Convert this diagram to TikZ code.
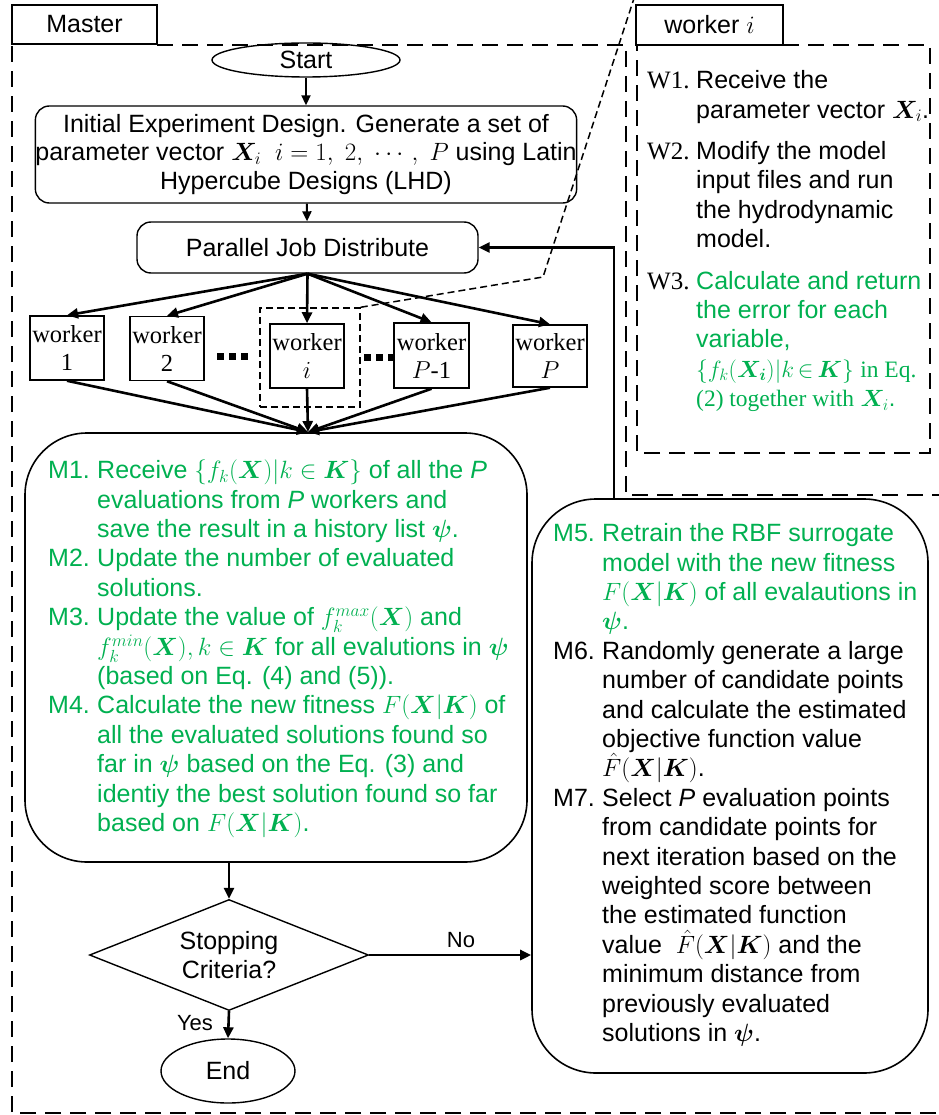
\RequirePackage{fix-cm}
\documentclass[tikz,border=0pt]{standalone}
\usepackage{amsmath}
\usepackage{bm}
\usepackage{fontspec}
\setmainfont{Liberation Sans}
\newfontfamily\serifont{Liberation Serif}
\usetikzlibrary{arrows.meta,shapes.geometric}
\definecolor{mgreen}{RGB}{0,176,80}
\newcommand{\ftxt}{\fontsize{25}{29.4}\selectfont}
\newcommand{\gr}[1]{\textcolor{mgreen}{#1}}
\newcommand{\Fhat}{\smash[t]{\hat{F}}}
\tikzset{
  arr/.style={line width=2.6pt, -{Triangle[length=11pt,width=10pt]}},
  thinarr/.style={line width=2pt, -{Triangle[length=10pt,width=9pt]}},
  roundbox/.style={draw, line width=1.4pt, rounded corners=14pt, inner sep=0pt},
  bigbox/.style={draw, line width=1.6pt, rounded corners=62pt, inner sep=0pt},
  wbox/.style={draw, line width=1.5pt, inner sep=0pt, minimum width=74pt, minimum height=64pt, align=center, font=\serifont\fontsize{24.5}{28}\selectfont},
  labelbox/.style={draw, line width=2.6pt, inner sep=0pt, font=\ftxt},
  frame/.style={line width=2pt, dash pattern=on 16pt off 9pt},
  smalldash/.style={line width=1.5pt, dash pattern=on 7pt off 4pt},
  term/.style={draw, ellipse, line width=1.4pt, inner sep=0pt, font=\ftxt},
}
\begin{document}
\begin{tikzpicture}[x=1pt, y=-1pt]
\useasboundingbox (0,0) rectangle (938,1115);

% frames
\draw[frame] (157,45) -- (626,45) -- (626,495) -- (950,495) -- (950,1113) -- (12,1113) -- (12,44);
\node[labelbox, minimum width=145pt, minimum height=39pt] (master) at (84.5,24.5) {Master};
\draw[frame] (783,45) -- (930,45) -- (930,453) -- (637,453) -- (637,45);
\node[labelbox, minimum width=147pt, minimum height=40pt] (wilabel) at (709.5,25) {worker $i$};

% start / initial / distribute
\node[term, minimum width=188pt, minimum height=34pt] (start) at (306,60) {Start};
\node[roundbox, minimum width=534pt, minimum height=97pt, align=center, font=\fontsize{25}{28.5}\selectfont] (init) at (306,154.5)
  {Initial Experiment Design. Generate a set of\\
   parameter vector $\bm{X}_i$ \ $i=1,\ 2,\ \cdots,\ P$ using Latin\\
   Hypercube Designs (LHD)};
\node[roundbox, minimum width=341pt, minimum height=51pt, font=\ftxt] (pjd) at (307.5,247.5) {Parallel Job Distribute};
\draw[thinarr] (start) -- (init);
\draw[thinarr] (init) -- (pjd);

% workers
\node[wbox] (w1) at (67,348) {worker\\1};
\node[wbox] (w2) at (167,348.5) {worker\\2};
\node[wbox, minimum height=64pt] (wi) at (307,356) {worker\\$i$};
\node[wbox, minimum width=75pt, minimum height=65pt] (wp1) at (431.5,355.5) {worker\\$P$-1};
\node[wbox, minimum height=62pt] (wp) at (550,356) {worker\\$P$};
\node[draw, smalldash, minimum width=100pt, minimum height=99pt, inner sep=0pt] (wibox) at (310,357.5) {};
\node[inner sep=0pt] (dots1) at (232,356) {\rule{7pt}{7pt}\hspace{5pt}\rule{7pt}{7pt}\hspace{5pt}\rule{7pt}{7pt}};
\node[inner sep=0pt] (dots2) at (379,357) {\rule{7pt}{7pt}\hspace{5pt}\rule{7pt}{7pt}\hspace{5pt}\rule{7pt}{7pt}};

\foreach \w in {w1,w2,wi,wp1,wp} \draw[arr] (pjd.south) -- (\w.north);

% zoom line
\coordinate (zbend) at (543,277);
\coordinate (ztop) at (640,-20);
\draw[smalldash] (wibox.north east) -- (zbend) -- (ztop);

% master box M1-M4
\node[bigbox, minimum width=502pt, minimum height=429pt] (mbox) at (276,647.5) {};
\coordinate (conv) at (308,432);
\foreach \w in {w1,w2,wi,wp1,wp} \draw[arr] (\w.south) -- (conv);

\node[anchor=north west, inner sep=0pt, font=\ftxt, text=mgreen] (mtext) at (48,458) {%
\begin{tabular}{@{}p{49pt}@{}l@{}}
M1. & Receive $\{f_k(\bm{X})|k\in\bm{K}\}$ of all the \textit{P}\\
 & evaluations from \textit{P} workers and\\
 & save the result in a history list $\bm{\psi}$.\\
M2. & Update the number of evaluated\\
 & solutions.\\
M3. & Update the value of $f_k^{max}(\bm{X})$ and\\
 & $f_k^{min}(\bm{X}), k\in\bm{K}$ for all evalutions in $\bm{\psi}$\\
 & (based on Eq. (4) and (5)).\\
M4. & Calculate the new fitness $F(\bm{X}|\bm{K})$ of\\
 & all the evaluated solutions found so\\
 & far in $\bm{\psi}$ based on the Eq. (3) and\\
 & identiy the best solution found so far\\
 & based on $F(\bm{X}|\bm{K})$.
\end{tabular}};

% M5-M7 box
\node[bigbox, rounded corners=64pt, minimum width=396pt, minimum height=574pt] (m5) at (730,786) {};
\node[anchor=north west, inner sep=0pt, font=\ftxt] (m5text) at (553,521) {%
\begin{tabular}{@{}p{49pt}@{}l@{}}
\gr{M5.} & \gr{Retrain the RBF surrogate}\\
 & \gr{model with the new fitness}\\
 & \gr{$F(\bm{X}|\bm{K})$ of all evalautions in}\\
 & \gr{$\bm{\psi}$.}\\
M6. & Randomly generate a large\\
 & number of candidate points\\
 & and calculate the estimated\\
 & objective function value\\
 & $\Fhat(\bm{X}|\bm{K})$.\\
M7. & Select \textit{P} evaluation points\\
 & from candidate points for\\
 & next iteration based on the\\
 & weighted score between\\
 & the estimated function\\
 & value \ $\Fhat(\bm{X}|\bm{K})$ and the\\
 & minimum distance from\\
 & previously evaluated\\
 & solutions in $\bm{\psi}$.
\end{tabular}};

% worker i panel text
\node[anchor=north west, inner sep=0pt, font=\ftxt] (wtext) at (647,68) {%
\begin{tabular}{@{}p{49pt}@{}l@{}}
{\serifont W1.} & Receive the\\
 & parameter vector $\bm{X}_i$.\\[12pt]
{\serifont W2.} & Modify the model\\
 & input files and run\\
 & the hydrodynamic\\
 & model.\\[12pt]
{\serifont W3.} & \gr{Calculate and return}\\
 & \gr{the error for each}\\
 & \gr{variable,}\\
 & \gr{\fontsize{23.5}{29.4}\selectfont\thickmuskip=3mu $\{f_k(\bm{X_i})|k\in\bm{K}\}$ {\serifont in Eq.}}\\
 & \gr{\fontsize{23.5}{29.4}\selectfont{\serifont (2) together with} $\bm{X}_i$.}
\end{tabular}};

% feedback
\coordinate (fbtop) at (614,247.5);
\draw[arr] (m5.north -| fbtop) -- (fbtop) -- (pjd.east);

% decision
\node[draw, diamond, line width=1.4pt, inner sep=0pt, minimum width=279pt, minimum height=111pt, aspect=2.5, align=center, font=\fontsize{25}{29}\selectfont] (dia) at (229,955) {Stopping\\Criteria?};
\coordinate (mout) at (229,862);
\draw[arr] (mout) -- (dia.north);
\node[term, minimum width=134pt, minimum height=64pt] (end) at (228,1071) {End};
\draw[arr] (dia.south) -- (end.north);
\draw[arr] (dia.east) -- (dia.east -| m5.west);
\node[font=\fontsize{22}{26}\selectfont] (no) at (461,940) {No};
\node[font=\fontsize{22}{26}\selectfont] (yes) at (195,1023) {Yes};
\end{tikzpicture}
\end{document}
